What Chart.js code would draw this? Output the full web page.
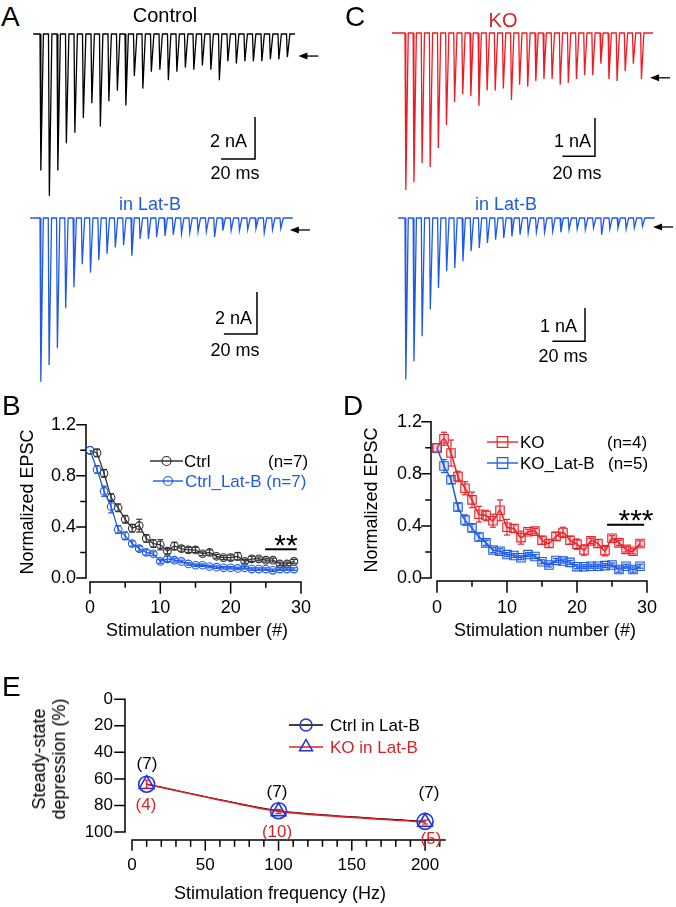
<!DOCTYPE html>
<html>
<head>
<meta charset="utf-8">
<title>EPSC trains, depression and Lat-B</title>
<script src="https://cdn.jsdelivr.net/npm/chart.js"></script>
<style>
  body { margin: 0; width: 676px; height: 907px; position: relative; background: #fff; overflow: hidden;
         font-family: "Liberation Sans", Arial, sans-serif; }
  canvas { position: absolute; }
  .t { position: absolute; line-height: 1; white-space: nowrap; color: #000; font-size: 18px; }
  .c { transform: translate(-50%, -50%); }
  .l { transform: translate(0, -50%); }
  .r { transform: translate(-100%, -50%); }
  .rot { transform: translate(-50%, -50%) rotate(-90deg); text-align: center; }
  .blue { color: #1f5ae6; }
  .red { color: #d8232a; }
  .big { font-size: 28px; }
  .star { font-size: 30px; transform: translateX(-50%); }
</style>
</head>
<body>
<canvas id="trA1"></canvas>
<canvas id="trA2"></canvas>
<canvas id="trC1"></canvas>
<canvas id="trC2"></canvas>
<canvas id="chartB"></canvas>
<canvas id="chartD"></canvas>
<canvas id="chartE"></canvas>

<!-- panel A -->
<div class="t l big" style="left:1px;top:17px">A</div>
<div class="t c" style="left:165px;top:15px;font-size:20px">Control</div>
<div class="t r" style="left:247px;top:141px">2 nA</div>
<div class="t c" style="left:235px;top:173px">20 ms</div>
<div class="t c blue" style="left:150px;top:204px">in Lat-B</div>
<div class="t r" style="left:252px;top:318px">2 nA</div>
<div class="t c" style="left:235px;top:350px">20 ms</div>
<!-- panel C -->
<div class="t l big" style="left:345px;top:17px">C</div>
<div class="t c red" style="left:503px;top:20px;font-size:20px">KO</div>
<div class="t r" style="left:591px;top:141px">1 nA</div>
<div class="t c" style="left:577px;top:173px">20 ms</div>
<div class="t c blue" style="left:506px;top:204px">in Lat-B</div>
<div class="t r" style="left:577px;top:326px">1 nA</div>
<div class="t c" style="left:563px;top:356px">20 ms</div>
<!-- panel B -->
<div class="t l big" style="left:2px;top:406px">B</div>
<div class="t rot" style="left:27px;top:502px">Normalized EPSC</div>
<div class="t l" style="left:184px;top:461px;font-size:17px">Ctrl</div>
<div class="t l" style="left:268px;top:461px;font-size:17px">(n=7)</div>
<div class="t l blue" style="left:185px;top:481px;font-size:17px">Ctrl_Lat-B (n=7)</div>
<div class="t star" style="left:286px;top:530px">**</div>
<div class="t c" style="left:197px;top:630px">Stimulation number (#)</div>
<!-- panel D -->
<div class="t l big" style="left:343px;top:406px">D</div>
<div class="t rot" style="left:371px;top:500px">Normalized EPSC</div>
<div class="t l" style="left:520px;top:442px;font-size:17px">KO</div>
<div class="t l" style="left:607px;top:442px;font-size:17px">(n=4)</div>
<div class="t l" style="left:520px;top:463px;font-size:17px">KO_Lat-B</div>
<div class="t l" style="left:608px;top:463px;font-size:17px">(n=5)</div>
<div class="t star" style="left:636px;top:505px">***</div>
<div class="t c" style="left:545px;top:630px">Stimulation number (#)</div>
<!-- panel E -->
<div class="t l big" style="left:2px;top:687px">E</div>
<div class="t rot" style="left:49px;top:759px;line-height:20px">Steady-state<br>depression (%)</div>
<div class="t l" style="left:330px;top:725px;font-size:17px">Ctrl in Lat-B</div>
<div class="t l red" style="left:330px;top:747px;font-size:17px">KO in Lat-B</div>
<div class="t c" style="left:147px;top:763px;font-size:17px">(7)</div>
<div class="t c red" style="left:146px;top:804px;font-size:17px">(4)</div>
<div class="t c" style="left:277px;top:791px;font-size:17px">(7)</div>
<div class="t c red" style="left:277px;top:831px;font-size:17px">(10)</div>
<div class="t c" style="left:429px;top:792px;font-size:17px">(7)</div>
<div class="t c red" style="left:431px;top:838px;font-size:17px">(5)</div>
<div class="t c" style="left:280px;top:893px">Stimulation frequency (Hz)</div>

<script>
// ---- data ----
// A / C: peak amplitude (nA) of each of the 30 EPSCs in the 200 Hz train
const stimInterval = 5; // ms
const ctrlTrace = [6.5, 7.7, 6.5, 5.2, 4.7, 4.0, 3.3, 4.4, 3.2, 2.7, 3.4, 2.0, 2.6, 1.8, 1.7,
                   2.2, 1.8, 1.6, 1.7, 1.5, 1.7, 2.2, 1.3, 1.4, 1.3, 1.3, 1.3, 1.2, 1.2, 1.1];
const ctrlLatBTrace = [7.8, 7.0, 6.2, 4.3, 3.3, 2.2, 2.6, 2.0, 1.7, 1.4, 1.3, 1.8, 1.0, 1.0, 0.9,
                       0.85, 0.8, 0.75, 0.7, 0.65, 0.65, 0.9, 0.6, 0.6, 0.6, 0.55, 0.5, 0.7, 0.55, 0.5];
const koTrace = [4.1, 3.9, 3.4, 3.5, 3.0, 2.4, 1.8, 1.6, 1.65, 1.9, 1.5, 1.5, 1.45, 1.75, 1.35,
                 1.4, 1.25, 1.2, 1.2, 1.35, 1.3, 1.2, 1.1, 1.1, 0.8, 1.2, 1.25, 1.0, 0.8, 1.2];
const koLatBTrace = [4.85, 4.3, 3.55, 2.75, 2.1, 1.6, 1.5, 1.3, 1.0, 0.9, 0.75, 0.65, 0.6, 0.55, 0.5,
                     0.45, 0.43, 0.43, 0.4, 0.43, 0.35, 0.33, 0.35, 0.3, 0.5, 0.33, 0.3, 0.33, 0.3, 0.25];

// B / D: normalized EPSC vs stimulation number
const stimNumber = [0, 1, 2, 3, 4, 5, 6, 7, 8, 9, 10, 11, 12, 13, 14,
                    15, 16, 17, 18, 19, 20, 21, 22, 23, 24, 25, 26, 27, 28, 29];
const ctrlMean = [1.0, 0.98, 0.82, 0.63, 0.55, 0.46, 0.39, 0.41, 0.31, 0.27, 0.26, 0.21, 0.25, 0.23, 0.22,
                  0.22, 0.19, 0.20, 0.17, 0.16, 0.16, 0.17, 0.13, 0.15, 0.15, 0.14, 0.14, 0.11, 0.11, 0.13];
const ctrlSem = [0, 0.03, 0.03, 0.03, 0.03, 0.03, 0.03, 0.05, 0.03, 0.03, 0.04, 0.02, 0.03, 0.02, 0.02,
                 0.02, 0.015, 0.02, 0.015, 0.015, 0.02, 0.03, 0.015, 0.02, 0.015, 0.015, 0.015, 0.015, 0.015, 0.015];
const ctrlLatBMean = [1.0, 0.85, 0.68, 0.56, 0.38, 0.33, 0.27, 0.23, 0.20, 0.19, 0.13, 0.15, 0.14, 0.13, 0.11,
                      0.10, 0.10, 0.09, 0.085, 0.08, 0.08, 0.075, 0.08, 0.07, 0.07, 0.07, 0.06, 0.07, 0.07, 0.07];
const ctrlLatBSem = [0, 0.03, 0.04, 0.05, 0.03, 0.03, 0.02, 0.02, 0.02, 0.015, 0.015, 0.02, 0.015, 0.01, 0.01,
                     0.01, 0.01, 0.01, 0.01, 0.01, 0.01, 0.01, 0.01, 0.01, 0.01, 0.01, 0.01, 0.01, 0.01, 0.01];
const koMean = [1.0, 1.07, 0.96, 0.78, 0.69, 0.60, 0.49, 0.48, 0.44, 0.52, 0.39, 0.38, 0.31, 0.355, 0.36,
                0.29, 0.265, 0.32, 0.35, 0.29, 0.26, 0.215, 0.285, 0.265, 0.21, 0.305, 0.27, 0.22, 0.205, 0.265];
const koSem = [0, 0.05, 0.10, 0.04, 0.05, 0.06, 0.06, 0.04, 0.05, 0.08, 0.06, 0.03, 0.05, 0.02, 0.02,
               0.03, 0.03, 0.03, 0.04, 0.03, 0.04, 0.04, 0.02, 0.03, 0.04, 0.02, 0.02, 0.02, 0.02, 0.02];
const koLatBMean = [1.0, 0.86, 0.755, 0.545, 0.445, 0.385, 0.315, 0.27, 0.215, 0.205, 0.18, 0.173, 0.156, 0.18, 0.165,
                    0.125, 0.10, 0.135, 0.13, 0.12, 0.087, 0.087, 0.09, 0.09, 0.095, 0.10, 0.065, 0.09, 0.065, 0.09];
const koLatBSem = [0, 0.05, 0.03, 0.03, 0.04, 0.03, 0.03, 0.02, 0.02, 0.02, 0.015, 0.015, 0.015, 0.015, 0.015,
                   0.015, 0.015, 0.015, 0.015, 0.015, 0.015, 0.015, 0.015, 0.015, 0.015, 0.015, 0.02, 0.015, 0.02, 0.015];

// E: steady-state depression vs frequency
const freqHz = [10, 100, 200];
const ctrlLatBDep = [64, 84, 92];
const koLatBDep = [64, 84.5, 92.5];
const koLatBDepSem = [3, 1.5, 1.5];

// tick values
const stimTicks = [0, 10, 20, 30];
const stimMinorTicks = [5, 15, 25];
const epscTicks = [0, 0.4, 0.8, 1.2];
const epscMinorTicks = [0.2, 0.6, 1.0];
const freqTicks = [0, 50, 100, 150, 200];
const freqMinorTicks = [10, 20, 30, 40, 60, 70, 80, 90, 110, 120, 130, 140, 160, 170, 180, 190, 210];
const depTicks = [0, 20, 40, 60, 80, 100];

// colours
const BLACK = '#333333', BLUE = '#1f5ae6', RED = '#e8232a', EBLUE = '#2233dd', ERED = '#dd2026';

Chart.defaults.font.family = '"Liberation Sans", Arial, sans-serif';
Chart.defaults.color = '#000';

function place(cv, left, top, w, h) {
  cv.width = w; cv.height = h;
  cv.style.left = left + 'px'; cv.style.top = top + 'px';
  cv.style.width = w + 'px'; cv.style.height = h + 'px';
}

function seg(ctx, x1, y1, x2, y2) {
  ctx.beginPath(); ctx.moveTo(x1, y1); ctx.lineTo(x2, y2); ctx.stroke();
}

function marker(ctx, style, x, y, r) {
  ctx.beginPath();
  if (style === 'circle') {
    ctx.arc(x, y, r, 0, Math.PI * 2);
  } else if (style === 'rect') {
    const s = r * Math.SQRT1_2;
    ctx.rect(x - s, y - s, 2 * s, 2 * s);
  } else {
    for (let k = 0; k < 3; k++) {
      const a = k * 2 * Math.PI / 3;
      const px = x + Math.sin(a) * r, py = y - Math.cos(a) * r;
      if (k) ctx.lineTo(px, py); else ctx.moveTo(px, py);
    }
    ctx.closePath();
  }
  ctx.stroke();
}

// ---- traces (A, C) ----
// scale bar + arrow, placed in data units (ms, nA)
function traceDecor(L) {
  return {
    id: 'traceDecor',
    afterDraw(chart) {
      const { ctx, scales: { x, y } } = chart;
      ctx.save();
      ctx.strokeStyle = '#000';
      ctx.lineWidth = 1.5;
      const bx = x.getPixelForValue(L.bar.t);
      const by1 = y.getPixelForValue(L.bar.top);
      const by2 = y.getPixelForValue(L.bar.top - L.bar.nA);
      const bx0 = x.getPixelForValue(L.bar.t - 20);
      ctx.beginPath();
      ctx.moveTo(bx, by1); ctx.lineTo(bx, by2); ctx.lineTo(bx0, by2);
      ctx.stroke();
      // arrow pointing left
      const ax = x.getPixelForValue(L.arrow.t), ay = y.getPixelForValue(L.arrow.y);
      ctx.lineWidth = 1.3;
      seg(ctx, ax + 6, ay, ax + 20, ay);
      ctx.fillStyle = '#000';
      ctx.beginPath(); ctx.moveTo(ax, ay); ctx.lineTo(ax + 9, ay - 3.5); ctx.lineTo(ax + 9, ay + 3.5); ctx.closePath(); ctx.fill();
      ctx.restore();
    }
  };
}

function makeTrace(id, amps, color, L) {
  const cv = document.getElementById(id);
  place(cv, L.left, L.top, L.w, L.h);
  const pts = [{ x: L.tStart, y: 0 }];
  amps.forEach((a, i) => {
    const t = i * stimInterval;
    pts.push({ x: t, y: 0 }, { x: t + 0.5, y: -a }, { x: t + 2, y: 0 });
  });
  pts.push({ x: L.tEnd, y: 0 });
  new Chart(cv, {
    type: 'line',
    data: { datasets: [{ data: pts, borderColor: color, borderWidth: 1.3, pointRadius: 0, tension: 0 }] },
    options: {
      responsive: false, animation: false, devicePixelRatio: 1,
      layout: { padding: 0 },
      plugins: { legend: { display: false }, tooltip: { enabled: false } },
      scales: {
        x: { type: 'linear', display: false,
             min: (L.left - L.t0) / L.msPx, max: (L.left + L.w - L.t0) / L.msPx },
        y: { display: false,
             min: -(L.top + L.h - L.base) / L.nAPx, max: (L.base - L.top) / L.nAPx }
      }
    },
    plugins: [traceDecor(L)]
  });
}

makeTrace('trA1', ctrlTrace, '#000', { left: 20, top: 22, w: 300, h: 182, t0: 40, msPx: 1.7, base: 34, nAPx: 21,
  tStart: -4, tEnd: 150, bar: { t: 126.5, top: -3.95, nA: 2 }, arrow: { t: 152, y: -1.05 } });
makeTrace('trA2', ctrlLatBTrace, BLUE, { left: 20, top: 206, w: 300, h: 185, t0: 40, msPx: 1.655, base: 218, nAPx: 21,
  tStart: -6, tEnd: 152.7, bar: { t: 131.1, top: -3.52, nA: 2 }, arrow: { t: 151, y: -0.57 } });
makeTrace('trC1', koTrace, '#ee1c24', { left: 380, top: 22, w: 296, h: 182, t0: 405, msPx: 1.625, base: 33, nAPx: 38.3,
  tStart: -8, tEnd: 152.6, bar: { t: 116.9, top: -2.22, nA: 1 }, arrow: { t: 150.8, y: -1.17 } });
makeTrace('trC2', koLatBTrace, BLUE, { left: 380, top: 206, w: 296, h: 185, t0: 405, msPx: 1.632, base: 218, nAPx: 33.3,
  tStart: -4.3, tEnd: 153, bar: { t: 110.3, top: -2.7, nA: 1 }, arrow: { t: 152, y: -0.27 } });

// ---- plots (B, D, E) ----
// error bars, legend keys and significance bar on the canvas
function plotDecor(P) {
  return {
    id: 'plotDecor',
    afterDatasetsDraw(chart) {
      const { ctx, scales: { x, y } } = chart;
      ctx.save();
      chart.data.datasets.forEach(ds => {
        if (!ds.errors) return;
        ctx.strokeStyle = ds.errorColor || ds.borderColor;
        ctx.lineWidth = 1.2;
        ds.data.forEach((p, i) => {
          const e = ds.errors[i];
          if (!e) return;
          const px = x.getPixelForValue(p.x);
          const y1 = y.getPixelForValue(p.y - e), y2 = y.getPixelForValue(p.y + e);
          const c = ds.cap || 3;
          seg(ctx, px, y1, px, y2);
          seg(ctx, px - c, y1, px + c, y1);
          seg(ctx, px - c, y2, px + c, y2);
        });
      });
      if (P.sig) {
        ctx.lineWidth = 2;
        ctx.strokeStyle = '#000';
        const sy = y.getPixelForValue(P.sig.y);
        seg(ctx, x.getPixelForValue(P.sig.x1), sy, x.getPixelForValue(P.sig.x2), sy);
      }
      P.keys.forEach(k => {
        const kx1 = k.x1 - P.left, kx2 = k.x2 - P.left, ky = k.y - P.top;
        ctx.strokeStyle = k.color; ctx.lineWidth = 1.4;
        seg(ctx, kx1, ky, kx2, ky);
        ctx.strokeStyle = k.mColor; ctx.lineWidth = k.mWidth || 1.2;
        marker(ctx, k.marker, (kx1 + kx2) / 2, ky, k.r);
      });
      ctx.restore();
    }
  };
}

// detached (Igor-style) axes as one extra line dataset: axis lines and tick marks,
// with the pixel offsets turned back into data units through the chart's own scales
function addAxes(chart, P) {
  const x = chart.scales.x, y = chart.scales.y;
  const vx = p => x.getValueForPixel(p), vy = p => y.getValueForPixel(p);
  const bottomPx = Math.max(y.getPixelForValue(P.yRange[0]), y.getPixelForValue(P.yRange[1]));
  const xy = bottomPx + P.xOff;
  const yx = x.getPixelForValue(P.xRange[0]) - P.yOff;
  const pts = [];
  const piece = (a, b) => { pts.push(a, b, { x: b.x, y: null }); };
  piece({ x: P.xRange[0], y: vy(xy) }, { x: P.xRange[1], y: vy(xy) });
  P.xMajor.forEach(v => piece({ x: v, y: vy(xy) }, { x: v, y: vy(xy + P.xMajLen) }));
  P.xMinor.forEach(v => piece({ x: v, y: vy(xy) }, { x: v, y: vy(xy + P.xMinLen) }));
  piece({ x: vx(yx), y: P.yRange[0] }, { x: vx(yx), y: P.yRange[1] });
  P.yMajor.forEach(v => piece({ x: vx(yx), y: v }, { x: vx(yx - P.yMajLen), y: v }));
  P.yMinor.forEach(v => piece({ x: vx(yx), y: v }, { x: vx(yx - P.yMinLen), y: v }));
  chart.data.datasets.push({ data: pts, borderColor: '#000', borderWidth: 1.5, pointRadius: 0,
    tension: 0, spanGaps: false, clip: false, borderCapStyle: 'square' });
  chart.update('none');
}

function axisOpts(ticksArr, min, max, fitKey, fitVal, pad, fmt, size) {
  return {
    type: 'linear', min, max,
    grid: { display: false, drawTicks: false },
    border: { display: false },
    ticks: { padding: pad, color: '#000', font: { size }, callback: fmt, maxRotation: 0, autoSkip: false, includeBounds: false },
    afterBuildTicks: s => { s.ticks = ticksArr.map(v => ({ value: v })); },
    afterFit: s => { s[fitKey] = fitVal; }
  };
}

function series(xs, ys) { return xs.map((v, i) => ({ x: v, y: ys[i] })); }

const baseOpts = { responsive: false, animation: false, devicePixelRatio: 1 };
const noPlug = { legend: { display: false }, tooltip: { enabled: false } };

// B
(() => {
  const cv = document.getElementById('chartB');
  const P = { left: 0, top: 400, xOff: 4, yOff: 4, xRange: [0, 30], yRange: [0, 1.2],
    xMajor: stimTicks, xMinor: stimMinorTicks, xMajLen: 11, xMinLen: 5,
    yMajor: epscTicks, yMinor: epscMinorTicks, yMajLen: 9, yMinLen: 5,
    sig: { x1: 24.9, x2: 29.4, y: 0.225 },
    keys: [
      { x1: 150, x2: 183, y: 461, color: BLACK, mColor: BLACK, marker: 'circle', r: 4.5 },
      { x1: 153, x2: 183, y: 481, color: BLUE, mColor: BLUE, marker: 'circle', r: 4.5 }
    ] };
  place(cv, P.left, P.top, 330, 240);
  const chart = new Chart(cv, {
    type: 'line',
    data: { datasets: [
      { data: series(stimNumber, ctrlLatBMean), errors: ctrlLatBSem, borderColor: BLUE, borderWidth: 1.3,
        pointStyle: 'circle', pointRadius: 3.8, pointBorderColor: BLUE, pointBackgroundColor: 'rgba(0,0,0,0)',
        pointBorderWidth: 1.1, tension: 0, clip: false },
      { data: series(stimNumber, ctrlMean), errors: ctrlSem, borderColor: BLACK, borderWidth: 1.3,
        pointStyle: 'circle', pointRadius: 3.8, pointBorderColor: BLACK, pointBackgroundColor: 'rgba(0,0,0,0)',
        pointBorderWidth: 1.1, tension: 0, clip: false }
    ] },
    options: { ...baseOpts, layout: { padding: { top: 20, right: 27, left: 0, bottom: 0 } }, plugins: noPlug,
      scales: {
        x: axisOpts(stimTicks, 0, 30, 'height', 62, 19, v => String(v), 18),
        y: axisOpts(epscTicks, 0, 1.2, 'width', 90, 14, v => v.toFixed(1), 18)
      } },
    plugins: [plotDecor(P)]
  });
  addAxes(chart, P);
})();

// D
(() => {
  const cv = document.getElementById('chartD');
  const P = { left: 340, top: 396, xOff: 3, yOff: 6, xRange: [0, 30], yRange: [0, 1.2],
    xMajor: stimTicks, xMinor: stimMinorTicks, xMajLen: 11, xMinLen: 5,
    yMajor: epscTicks, yMinor: epscMinorTicks, yMajLen: 9, yMinLen: 5,
    sig: { x1: 24.3, x2: 29.6, y: 0.41 },
    keys: [
      { x1: 487, x2: 518, y: 442, color: RED, mColor: RED, marker: 'rect', r: 7.5 },
      { x1: 487, x2: 518, y: 463, color: BLUE, mColor: BLUE, marker: 'rect', r: 7.5 }
    ] };
  place(cv, P.left, P.top, 336, 244);
  const chart = new Chart(cv, {
    type: 'line',
    data: { datasets: [
      { data: series(stimNumber, koMean), errors: koSem, borderColor: RED, borderWidth: 1.5,
        pointStyle: 'rect', pointRadius: 6, pointBorderColor: RED, pointBackgroundColor: 'rgba(232,35,42,0.12)',
        pointBorderWidth: 1.1, tension: 0.25, clip: false },
      { data: series(stimNumber, koLatBMean), errors: koLatBSem, borderColor: BLUE, borderWidth: 1.5,
        pointStyle: 'rect', pointRadius: 6, pointBorderColor: BLUE, pointBackgroundColor: 'rgba(31,90,230,0.12)',
        pointBorderWidth: 1.1, tension: 0.25, clip: false }
    ] },
    options: { ...baseOpts, layout: { padding: { top: 20, right: 23, left: 0, bottom: 0 } }, plugins: noPlug,
      scales: {
        x: axisOpts(stimTicks, 0, 30, 'height', 62, 19, v => String(v), 18),
        y: axisOpts(epscTicks, 0, 1.2, 'width', 97, 15, v => v.toFixed(1), 18)
      } },
    plugins: [plotDecor(P)]
  });
  addAxes(chart, P);
})();

// E
(() => {
  const cv = document.getElementById('chartE');
  const P = { left: 0, top: 670, xOff: 8, yOff: 7, xRange: [0, 213.6], yRange: [0, 100],
    xMajor: freqTicks, xMinor: freqMinorTicks, xMajLen: 10, xMinLen: 6,
    yMajor: depTicks, yMinor: [], yMajLen: 10, yMinLen: 5,
    keys: [
      { x1: 289, x2: 323, y: 725, color: '#000', mColor: EBLUE, marker: 'circle', r: 6, mWidth: 1.5 },
      { x1: 289, x2: 323, y: 747, color: ERED, mColor: EBLUE, marker: 'triangle', r: 7.5, mWidth: 1.5 }
    ] };
  place(cv, P.left, P.top, 470, 237);
  const yOpts = axisOpts(depTicks, 0, 100, 'width', 132, 19, v => String(v), 17);
  yOpts.reverse = true;
  const chart = new Chart(cv, {
    type: 'line',
    data: { datasets: [
      { data: series(freqHz, koLatBDep), errors: koLatBDepSem, errorColor: ERED, cap: 3, borderColor: ERED, borderWidth: 1.6,
        pointStyle: 'triangle', pointRadius: 8.5, pointBorderColor: EBLUE, pointBackgroundColor: 'rgba(0,0,0,0)',
        pointBorderWidth: 1.6, tension: 0.2, clip: false },
      { data: series(freqHz, ctrlLatBDep), borderColor: '#000', borderWidth: 1.2,
        pointStyle: 'circle', pointRadius: 8, pointBorderColor: EBLUE, pointBackgroundColor: 'rgba(0,0,0,0)',
        pointBorderWidth: 1.6, tension: 0.2, clip: false }
    ] },
    options: { ...baseOpts, layout: { padding: { top: 19, right: 25, left: 0, bottom: 0 } }, plugins: noPlug,
      scales: {
        x: axisOpts(freqTicks, 0, 213.6, 'height', 75, 23, v => String(v), 17),
        y: yOpts
      } },
    plugins: [plotDecor(P)]
  });
  addAxes(chart, P);
})();
</script>
</body>
</html>
